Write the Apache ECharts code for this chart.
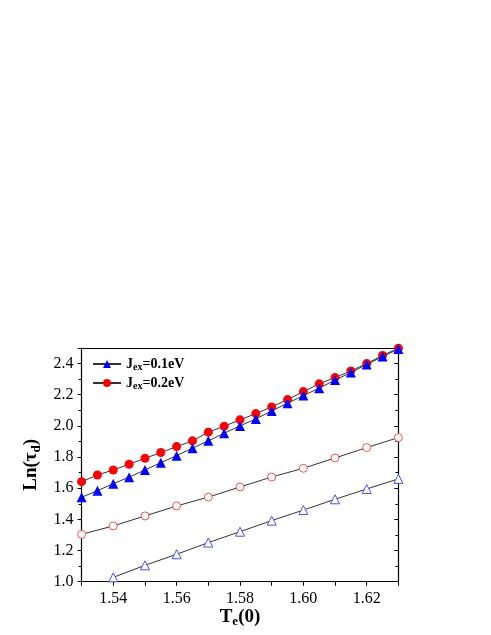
<!DOCTYPE html>
<html><head><meta charset="utf-8">
<script src="https://cdn.jsdelivr.net/npm/echarts@6/dist/echarts.min.js"></script>
<style>html,body{margin:0;padding:0;background:#fff}#c{width:491px;height:635px}</style>
</head><body><div id="c"></div>
<script>
var xFine = [1.53,1.535,1.54,1.545,1.55,1.555,1.56,1.565,1.57,1.575,1.58,1.585,1.59,1.595,1.60,1.605,1.61,1.615,1.62,1.625,1.63];
var jex01Filled = [1.542,1.584,1.629,1.671,1.717,1.764,1.809,1.857,1.904,1.953,2.000,2.045,2.096,2.146,2.195,2.242,2.295,2.342,2.394,2.445,2.493];
var jex02Filled = [1.642,1.685,1.717,1.754,1.792,1.829,1.867,1.904,1.960,1.998,2.039,2.079,2.122,2.169,2.220,2.270,2.310,2.353,2.400,2.452,2.499];
var xCoarseCircle = [1.53,1.54,1.55,1.56,1.57,1.58,1.59,1.60,1.61,1.62,1.63];
var openCircle = [1.304,1.358,1.422,1.486,1.543,1.608,1.672,1.728,1.794,1.861,1.925];
var xCoarseTri = [1.54,1.55,1.56,1.57,1.58,1.59,1.60,1.61,1.62,1.63];
var openTriangle = [1.028,1.105,1.176,1.251,1.321,1.392,1.460,1.529,1.595,1.660];
var legendNames = ['J_ex=0.1eV','J_ex=0.2eV'];

function pairs(xs, ys){ return xs.map(function(x,i){return [x, ys[i]];}); }
var font = 'Liberation Serif';
var lineStyle = {color:'#333', width:1};

var chart = echarts.init(document.getElementById('c'));
chart.setOption({
  animation:false,
  textStyle:{fontFamily:font},
  grid:{left:81.6, right:92.6, top:348, bottom:53.3},
  legend:{
    left:87, top:352, orient:'vertical', itemGap:4, itemWidth:28, itemHeight:10,
    data:[legendNames[0], legendNames[1]],
    formatter:function(n){ return n==='J_ex=0.1eV' ? '{b|J}{s|ex}{b|=0.1eV}' : '{b|J}{s|ex}{b|=0.2eV}'; },
    textStyle:{rich:{
      b:{fontFamily:font, fontWeight:'bold', fontSize:14, color:'#000'},
      s:{fontFamily:font, fontWeight:'bold', fontSize:10, color:'#000', verticalAlign:'bottom', padding:[6,0,0,0]}
    }}
  },
  xAxis:[{
    type:'value', min:1.53, max:1.63, interval:0.01,
    name:'{t|T}{s|e}{t|(0)}', nameLocation:'middle', nameGap:20,
    nameTextStyle:{rich:{
      t:{fontFamily:font, fontWeight:'bold', fontSize:19, color:'#000'},
      s:{fontFamily:font, fontWeight:'bold', fontSize:13, color:'#000', padding:[10,0,0,0]}
    }},
    axisLine:{show:true, onZero:false, lineStyle:{color:'#000', width:1.2}},
    axisTick:{show:true, inside:false, length:4, lineStyle:{color:'#000'}},
    axisLabel:{color:'#000', fontSize:16, fontFamily:font, margin:9,
      formatter:function(v){ return Math.round(v*100)%2===0 ? v.toFixed(2) : ''; }},
    splitLine:{show:false}
  },{
    type:'value', position:'top', min:1.53, max:1.63,
    axisLine:{show:true, onZero:false, lineStyle:{color:'#000', width:1.2}},
    axisTick:{show:false}, axisLabel:{show:false}, splitLine:{show:false}
  }],
  yAxis:[{
    type:'value', min:1.0, max:2.5, interval:0.2,
    name:'{t|Ln(τ}{s|d}{t|)}', nameLocation:'middle', nameGap:28,
    nameTextStyle:{rich:{
      t:{fontFamily:font, fontWeight:'bold', fontSize:19, color:'#000'},
      s:{fontFamily:font, fontWeight:'bold', fontSize:13, color:'#000', padding:[10,0,0,0]}
    }},
    axisLine:{show:true, onZero:false, lineStyle:{color:'#000', width:1.2}},
    axisTick:{show:true, inside:false, length:4, lineStyle:{color:'#000'}},
    minorTick:{show:true, splitNumber:2, length:3, lineStyle:{color:'#000'}},
    axisLabel:{color:'#000', fontSize:16, fontFamily:font, margin:8, showMaxLabel:false,
      formatter:function(v){ return v.toFixed(1); }},
    splitLine:{show:false}
  },{
    type:'value', position:'right', min:1.0, max:2.5, interval:0.2,
    axisLine:{show:true, onZero:false, lineStyle:{color:'#000', width:1.2}},
    axisTick:{show:true, inside:true, length:4, lineStyle:{color:'#000'}},
    minorTick:{show:true, splitNumber:2, length:3, lineStyle:{color:'#000'}},
    axisLabel:{show:false}, splitLine:{show:false}
  }],
  series:[
    {name:legendNames[1], type:'line', data:pairs(xFine, jex02Filled), symbol:'circle', symbolSize:9,
     itemStyle:{color:'#ff0000'}, lineStyle:lineStyle, z:3},
    {name:legendNames[0], type:'line', data:pairs(xFine, jex01Filled), symbol:'triangle', symbolSize:10,
     itemStyle:{color:'#0000ff'}, lineStyle:lineStyle, z:4},
    {name:'open circle', type:'line', data:pairs(xCoarseCircle, openCircle), symbol:'circle', symbolSize:8,
     itemStyle:{color:'#fff', borderColor:'#ff4d4d', borderWidth:1}, lineStyle:lineStyle, z:2},
    {name:'open triangle', type:'line', data:pairs(xCoarseTri, openTriangle), symbol:'triangle', symbolSize:9,
     itemStyle:{color:'#fff', borderColor:'#4d4dff', borderWidth:1}, lineStyle:lineStyle, z:2}
  ]
});
</script></body></html>
